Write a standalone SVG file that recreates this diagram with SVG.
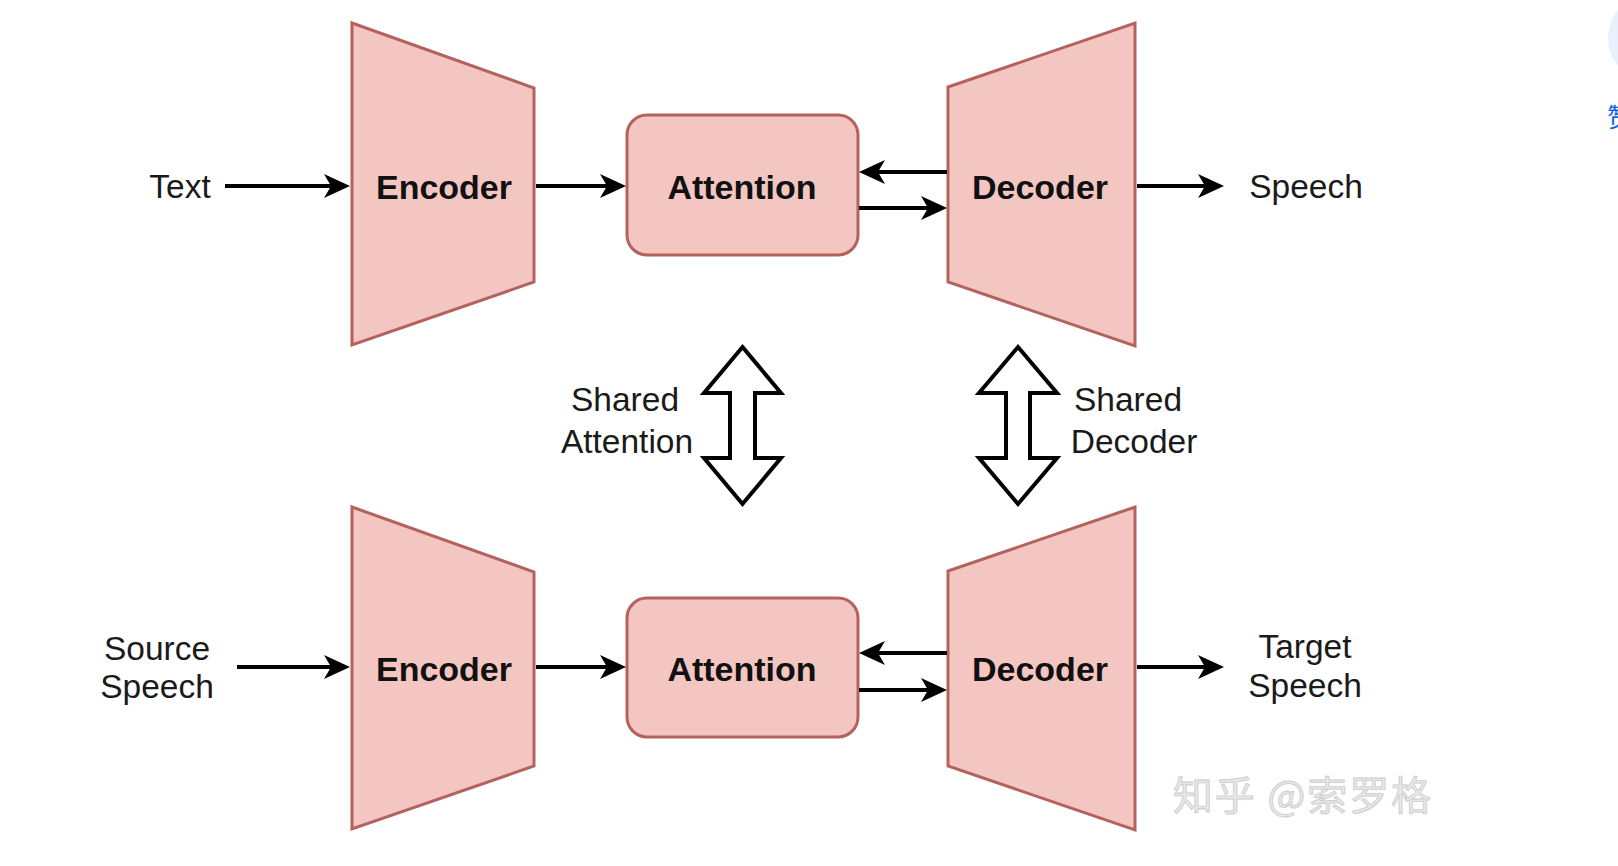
<svg xmlns="http://www.w3.org/2000/svg" width="1618" height="866" viewBox="0 0 1618 866">
  <style>
    .shape { fill: #f4c6c2; stroke: #b3625d; stroke-width: 3; stroke-linejoin: miter; }
    .bold { font-family: "Liberation Sans", Arial, sans-serif; font-size: 34px; font-weight: bold; fill: #111; text-anchor: middle; }
    .lbl { font-family: "Liberation Sans", Arial, sans-serif; font-size: 33.5px; fill: #1a1a1a; text-anchor: middle; }
    .conn { stroke: #000; stroke-width: 4; fill: none; marker-end: url(#arrow); }
    .dbl { fill: #fff; stroke: #000; stroke-width: 4; stroke-linejoin: miter; }
    .wm { font-family: "Noto Sans CJK SC", "Liberation Sans", sans-serif; font-size: 40px; fill: #e8e8e8; stroke: #cdcdcd; stroke-width: 0.9; }
  </style>
  <defs>
    <marker id="arrow" markerUnits="userSpaceOnUse" markerWidth="26" markerHeight="26" viewBox="0 0 26 26" refX="10" refY="13" orient="auto">
      <path d="M0,1 L26,13 L0,25 L7,13 Z" fill="#000"/>
    </marker>
  </defs>
  <rect x="0" y="0" width="1618" height="866" fill="#ffffff"/>

  <!-- top-right page fragment -->
  <circle cx="1652" cy="38" r="44" fill="#eaf0fb"/>
  <text x="1607" y="127" font-family="Noto Sans CJK SC, sans-serif" font-size="26" fill="#1466e6">赞</text>

  <!-- Top row -->
  <g id="text-label"><text class="lbl" x="180" y="198">Text</text></g>
  <g id="encoder-top">
    <polygon class="shape" points="352,23 534,88 534,282 352,345"/>
    <text class="bold" x="444" y="199">Encoder</text>
  </g>
  <g id="attention-top">
    <rect class="shape" x="627" y="115" width="231" height="140" rx="20" ry="20"/>
    <text class="bold" x="742" y="199">Attention</text>
  </g>
  <g id="decoder-top">
    <polygon class="shape" points="948,87 1135,23 1135,346 948,282"/>
    <text class="bold" x="1040" y="199">Decoder</text>
  </g>
  <g id="speech-label"><text class="lbl" x="1306" y="198">Speech</text></g>

  <!-- Shared labels and double arrows -->
  <g id="shared-attention">
    <polygon class="dbl" points="742.5,347 781,393 755,393 755,458 781,458 742.5,504 704,458 730,458 730,393 704,393"/>
    <text class="lbl" x="625" y="411">Shared</text>
    <text class="lbl" x="627" y="453">Attention</text>
  </g>
  <g id="shared-decoder">
    <polygon class="dbl" points="1018,347 1057,393 1030,393 1030,458 1057,458 1018,504 979,458 1006,458 1006,393 979,393"/>
    <text class="lbl" x="1128" y="411">Shared</text>
    <text class="lbl" x="1134" y="453">Decoder</text>
  </g>

  <!-- Bottom row -->
  <g id="source-speech-label">
    <text class="lbl" x="157" y="660">Source</text>
    <text class="lbl" x="157" y="698">Speech</text>
  </g>
  <g id="encoder-bottom">
    <polygon class="shape" points="352,507 534,572 534,766 352,829"/>
    <text class="bold" x="444" y="681">Encoder</text>
  </g>
  <g id="attention-bottom">
    <rect class="shape" x="627" y="598" width="231" height="139" rx="20" ry="20"/>
    <text class="bold" x="742" y="681">Attention</text>
  </g>
  <g id="decoder-bottom">
    <polygon class="shape" points="948,571 1135,507 1135,830 948,766"/>
    <text class="bold" x="1040" y="681">Decoder</text>
  </g>
  <g id="target-speech-label">
    <text class="lbl" x="1305" y="658">Target</text>
    <text class="lbl" x="1305" y="697">Speech</text>
  </g>

  <!-- Connectors -->
  <g id="connectors">
    <line class="conn" x1="225" y1="186" x2="334" y2="186"/>
    <line class="conn" x1="536" y1="186" x2="610" y2="186"/>
    <line class="conn" x1="947" y1="172" x2="875" y2="172"/>
    <line class="conn" x1="859" y1="208" x2="931" y2="208"/>
    <line class="conn" x1="1137" y1="186" x2="1208" y2="186"/>

    <line class="conn" x1="237" y1="667" x2="334" y2="667"/>
    <line class="conn" x1="536" y1="667" x2="610" y2="667"/>
    <line class="conn" x1="947" y1="653" x2="875" y2="653"/>
    <line class="conn" x1="859" y1="690" x2="931" y2="690"/>
    <line class="conn" x1="1137" y1="667" x2="1208" y2="667"/>
  </g>

  <!-- Watermark -->
  <text class="wm" x="1173" y="810" textLength="258" lengthAdjust="spacing">知乎 @索罗格</text>
</svg>
